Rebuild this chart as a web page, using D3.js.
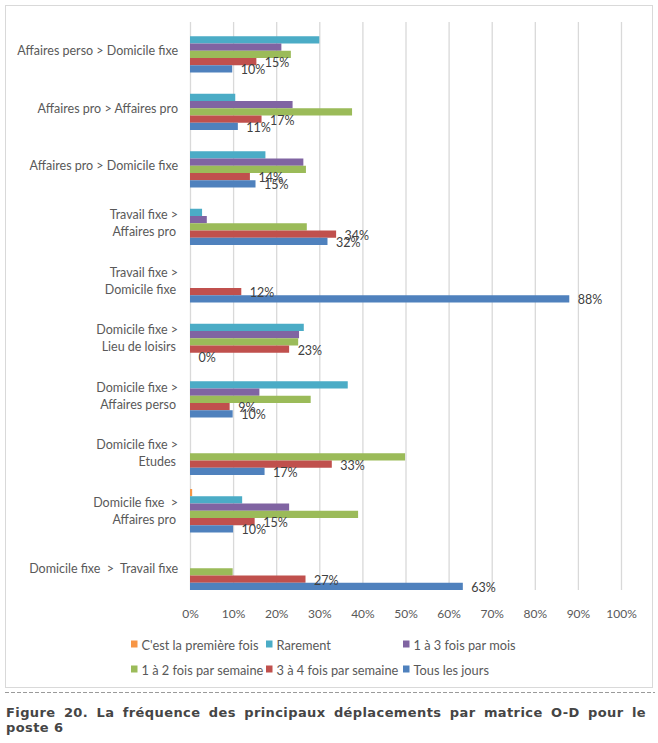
<!DOCTYPE html>
<html><head><meta charset="utf-8">
<script src="https://cdn.jsdelivr.net/npm/d3@7"></script>
<style>
body{margin:0;background:#fff}
svg{display:block}
text{font-family:Lato,"Open Sans",sans-serif}
</style>
</head><body><svg id="c" width="658" height="743"></svg>
<script>
// ---- data ----
const categories = [
  "Affaires perso > Domicile fixe",
  "Affaires pro > Affaires pro",
  "Affaires pro > Domicile fixe",
  "Travail fixe >\nAffaires pro",
  "Travail fixe >\nDomicile fixe",
  "Domicile fixe >\nLieu de loisirs",
  "Domicile fixe >\nAffaires perso",
  "Domicile fixe >\nEtudes",
  "Domicile fixe  >\nAffaires pro",
  "Domicile fixe  >  Travail fixe"
];
const seriesNames = ["C'est la première fois", "Rarement", "1 à 3 fois par mois",
  "1 à 2 fois par semaine", "3 à 4 fois par semaine", "Tous les jours"];
const premiereFois        = [0, 0, 0, 0, 0, 0, 0, 0, 0.5, 0];
const rarement            = [30.0, 10.5, 17.5, 2.8, 0, 26.4, 36.6, 0, 12.1, 0];
const unATroisParMois     = [21.2, 23.8, 26.3, 3.9, 0, 25.3, 16.1, 0, 23.0, 0];
const unADeuxParSemaine   = [23.4, 37.6, 26.9, 27.1, 0, 25.1, 28.0, 49.9, 39.0, 9.9];
const troisAQuatreParSem  = [15.4, 16.6, 13.9, 33.9, 11.9, 23.0, 9.2, 32.9, 15.0, 26.8];
const tousLesJours        = [9.8, 11.1, 15.2, 31.9, 88.0, 0, 9.9, 17.3, 10.0, 63.3];
const tickValues = [0, 10, 20, 30, 40, 50, 60, 70, 80, 90, 100];
const tickLabels = ["0%", "10%", "20%", "30%", "40%", "50%", "60%", "70%", "80%", "90%", "100%"];
const labelledSeries = ["3 à 4 fois par semaine", "Tous les jours"];
const colors = ["#F79646", "#4BACC6", "#8064A2", "#9BBB59", "#C0504D", "#4F81BD"];
const captionLine1 = "Figure 20. La fréquence des principaux déplacements par matrice O-D pour le";
const captionLine2 = "poste 6";

const seriesValues = [premiereFois, rarement, unATroisParMois, unADeuxParSemaine, troisAQuatreParSem, tousLesJours];

// ---- layout ----
const svg = d3.select("#c");
const plot = {left: 190, right: 621, top: 22, bottom: 590};
const textColor = "#595959";

// chart border
svg.append("rect").attr("x", 5.5).attr("y", 5.5).attr("width", 647).attr("height", 682)
  .attr("fill", "#fff").attr("stroke", "#D9D9D9").attr("stroke-width", 1);

const x = d3.scaleLinear().domain([0, 100]).range([plot.left, plot.right]);
const y = d3.scaleBand().domain(categories).range([plot.top, plot.top + 575])
  .paddingInner(0.2435).paddingOuter(0.12175);
const ys = d3.scaleBand().domain(seriesNames).range([0, y.bandwidth()]);

// gridlines + tick labels
const axis = d3.axisBottom(x).tickValues(tickValues)
  .tickFormat((d, i) => tickLabels[i])
  .tickSize(-(plot.bottom - plot.top)).tickPadding(19.5);
const gx = svg.append("g").attr("transform", `translate(0,${plot.bottom})`).call(axis);
gx.select(".domain").remove();
gx.selectAll(".tick line").attr("stroke", "#D9D9D9").attr("stroke-width", 1.3);
gx.selectAll(".tick text").attr("fill", textColor).style("font-size", "12px")
  .style("font-family", "Lato");

// bars
const rows = [];
categories.forEach((c, ci) => seriesNames.forEach((s, si) => rows.push({c, s, si, v: seriesValues[si][ci]})));
svg.append("g").selectAll("rect").data(rows.filter(d => d.v > 0)).join("rect")
  .attr("x", x(0))
  .attr("y", d => y(d.c) + ys(d.s))
  .attr("width", d => x(d.v) - x(0))
  .attr("height", ys.bandwidth())
  .attr("fill", d => colors[d.si]);

// data labels
svg.append("g").selectAll("text").data(rows.filter(d => labelledSeries.includes(d.s))).join("text")
  .attr("x", d => x(d.v) + 8.5)
  .attr("y", d => y(d.c) + ys(d.s) + ys.bandwidth() / 2 + 1)
  .attr("dominant-baseline", "central")
  .attr("fill", "#404040").style("font-size", "12.5px")
  .text(d => Math.round(d.v) + "%");

// category labels
const cl = svg.append("g").selectAll("text").data(categories).join("text")
  .attr("text-anchor", "end").attr("fill", textColor).style("font-size", "12.5px")
  .style("white-space", "pre");
cl.each(function(c) {
  const lines = c.split("\n");
  const cy = y(c) + y.bandwidth() / 2;
  const t = d3.select(this);
  if (lines.length === 1) {
    t.append("tspan").attr("x", 178).attr("y", cy).attr("dominant-baseline", "central").text(lines[0]);
  } else {
    t.append("tspan").attr("x", 178).attr("y", cy - 8.3).attr("dominant-baseline", "central").text(lines[0]);
    t.append("tspan").attr("x", 176).attr("y", cy + 8.4).attr("dominant-baseline", "central").text(lines[1]);
  }
});

// legend
const legCols = [131, 266, 403];
const legRows = [644, 669];
const lg = svg.append("g").selectAll("g").data(seriesNames).join("g")
  .attr("transform", (d, i) => `translate(${legCols[i % 3]},${legRows[Math.floor(i / 3)]})`);
lg.append("rect").attr("x", 0).attr("y", -3.5).attr("width", 6.5).attr("height", 7)
  .attr("fill", (d, i) => colors[i]);
lg.append("text").attr("x", 10.5).attr("y", 0.5).attr("dominant-baseline", "central")
  .attr("fill", textColor).style("font-size", "12.8px").text(d => d);

// dashed separator
svg.append("line").attr("x1", 5).attr("x2", 655).attr("y1", 692.5).attr("y2", 692.5)
  .attr("stroke", "#9a9a9a").attr("stroke-width", 1).attr("stroke-dasharray", "4,2");

// caption (justified first line)
const capStyle = t => t.attr("fill", "#454545").style("font-family", "'DejaVu Sans', Verdana, sans-serif")
  .style("font-weight", "bold").style("font-size", "13px").style("letter-spacing", "0.4px");
const c1 = svg.append("text").attr("x", 6).attr("y", 716.5).call(capStyle).text(captionLine1);
const natural = c1.node().getComputedTextLength();
const spaces = (captionLine1.match(/ /g) || []).length;
c1.style("word-spacing", Math.max(0, (640 - natural) / spaces) + "px");
svg.append("text").attr("x", 6).attr("y", 731.5).call(capStyle).text(captionLine2);
</script>
</body></html>
